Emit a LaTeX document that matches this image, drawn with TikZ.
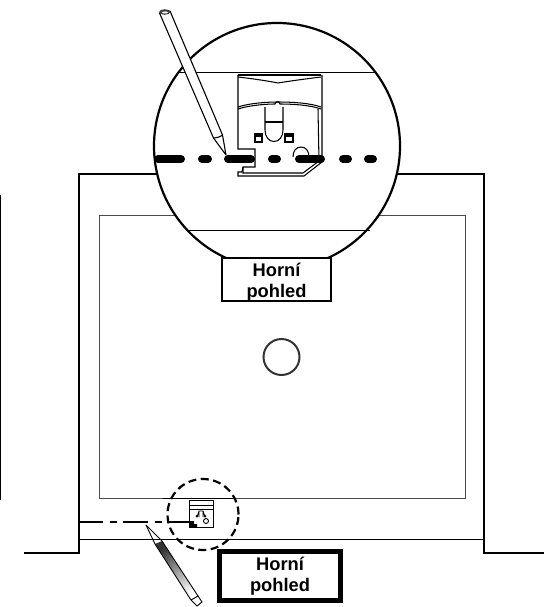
\documentclass[tikz,border=0pt]{standalone}
\usepackage{fontspec}
\setmainfont{Liberation Sans}
\usetikzlibrary{calc}
\definecolor{linegrey}{gray}{0.3}
\tikzset{
  wall/.style={line width=2.7pt,line join=miter,draw=black},
  thinl/.style={line width=1pt},
  dev/.style={line width=1.05pt,line join=miter},
  lab/.style={font=\fontsize{18.3}{21}\selectfont\bfseries,align=center,inner sep=0pt,text width=100pt},
  labbox/.style={draw,fill=white,minimum width=109pt,minimum height=43pt,inner sep=0pt},
}
\begin{document}
\begin{tikzpicture}[x=1pt,y=-1pt]
\useasboundingbox (0,0) rectangle (551,607);
% left edge bar
\draw[line width=1.6pt] (0.5,195) -- (0.5,500);
% housing
\draw[wall] (24,553) -- (79,553) -- (79,174) -- (484,174) -- (484,553) -- (544,553);
\draw[line width=1pt,draw=linegrey] (99,215) rectangle (465,498.5);
\draw[thinl] (79,539) -- (484,539);
\node[circle,draw=black!80,line width=2pt,minimum size=36pt,inner sep=0pt] (hole) at (281.5,357) {};
% small view
\draw[line width=1.6pt] (163,498.5) -- (233,498.5);
\draw[line width=2.4pt] (79,522) -- (103,522) (110,522) -- (117,522) (123,522) -- (148,522) (155,522) -- (162,522) (167,522) -- (190,522);
\draw[line width=1pt] (189,500) rectangle (213,527);
\draw[line width=0.8pt] (189,505) -- (213,505) (189,509) -- (213,509);
\fill[black] (189,521) -- (194,521) -- (194,524) -- (197,524) -- (197,527) -- (189,527) -- cycle;
\draw[line width=0.8pt] (197,517) -- (199,511) -- (203,511) -- (205,517) (199,511) -- (199,517) (203,511)--(203,517);
\fill (197,516) circle (1.5) (205,516) circle (1.5);
\draw[line width=0.9pt] (206,521) circle (2.5);
\node[circle,draw,dash pattern=on 8pt off 4.5pt,line width=2.2pt,minimum size=71pt,inner sep=0pt] (smallc) at (203,514.5) {};
% small pencil
\shade[left color=black!80,right color=white,shading angle=32]
  (155,544) -- (162,541) -- (198,596) -- (191,600) -- cycle;
\draw[line width=0.9pt] (146,525) -- (155,544) -- (191,600);
\draw[line width=0.9pt] (146,525) -- (162,541) -- (198,596);
\draw[line width=0.9pt] (191,600) -- (198,596) -- (202,602) -- (197,606) -- (191,600);
\node[draw,line width=5pt,minimum width=121pt,minimum height=49pt,inner sep=0pt,fill=white] (boxb) at (280,576) {};
\node[lab] (texb) at (280,576) {Horní\\pohled};
% magnified circle
\node[circle,draw,fill=white,line width=2.2pt,minimum size=246pt,inner sep=0pt] (bigc) at (277,146) {};
\draw[thinl] (180,73) -- (375,73);
\draw[thinl] (188,230) -- (370,230);
% device
\draw[dev] (238,75) -- (321,75);
\draw[dev] (238,77) .. controls (255,79) and (268,81) .. (278,83) .. controls (290,81) and (305,79) .. (321,77);
\draw[dev] (238,109) .. controls (250,105) and (268,104) .. (275,104) .. controls (276,101) and (279,101) .. (280,104) .. controls (292,104) and (310,105) .. (321,109);
\draw[dev] (238,107) .. controls (250,103) and (268,102) .. (278,102) .. controls (292,102) and (310,103) .. (321,107);
\draw[dev] (238,75) -- (238,149) -- (255,149) -- (255,167) -- (243,167) -- (242,172) -- (238,172) -- (238,176) -- (304,176) -- (322,162) -- (322,75);
\draw[dev] (243,167) -- (243,173) -- (303,173) -- (319,161) -- (318,109);
\draw[dev] (265,107) -- (265,130) .. controls (265,137) and (269,141.5) .. (274,141.5) .. controls (279,141.5) and (283,137) .. (283,130) -- (283,107);
\draw[dev] (265,122) -- (283,122);
\draw[dev] (255,134) rectangle (262,142);
\draw[dev] (255,136) -- (262,136);
\draw[dev] (285,134) rectangle (293,142);
\draw[dev] (285,136) -- (293,136);
\draw[dev] (293,157) .. controls (293,151) and (296,147) .. (301,147) .. controls (306,147) and (309,151) .. (309,157);
% thick dash-dot line
\draw[line width=8pt,line cap=round]
  (158,159) -- (181,159) (202,159) -- (208,159) (228,159) -- (251,159)
  (272,159) -- (277,159) (299,159) -- (321,159) (343,159) -- (348,159) (368,159) -- (373,159);
% big pencil
\draw[fill=white,line width=1.1pt,line join=round] (159.5,13) -- (170,11) -- (222.5,135) -- (226,155) -- (213.5,138) -- cycle;
\draw[line width=1.1pt] (213.5,138) .. controls (216,138) and (220,137) .. (222.5,135);
\fill[black!75] (164.7,12) ellipse (5.5 and 2.8);
\fill[white] (165,12.5) ellipse (3 and 1);
% top label
\node[labbox,line width=2.4pt] (boxa) at (276.5,279.5) {};
\node[lab] (texa) at (276.5,282) {Horní\\pohled};
\end{tikzpicture}
\end{document}
